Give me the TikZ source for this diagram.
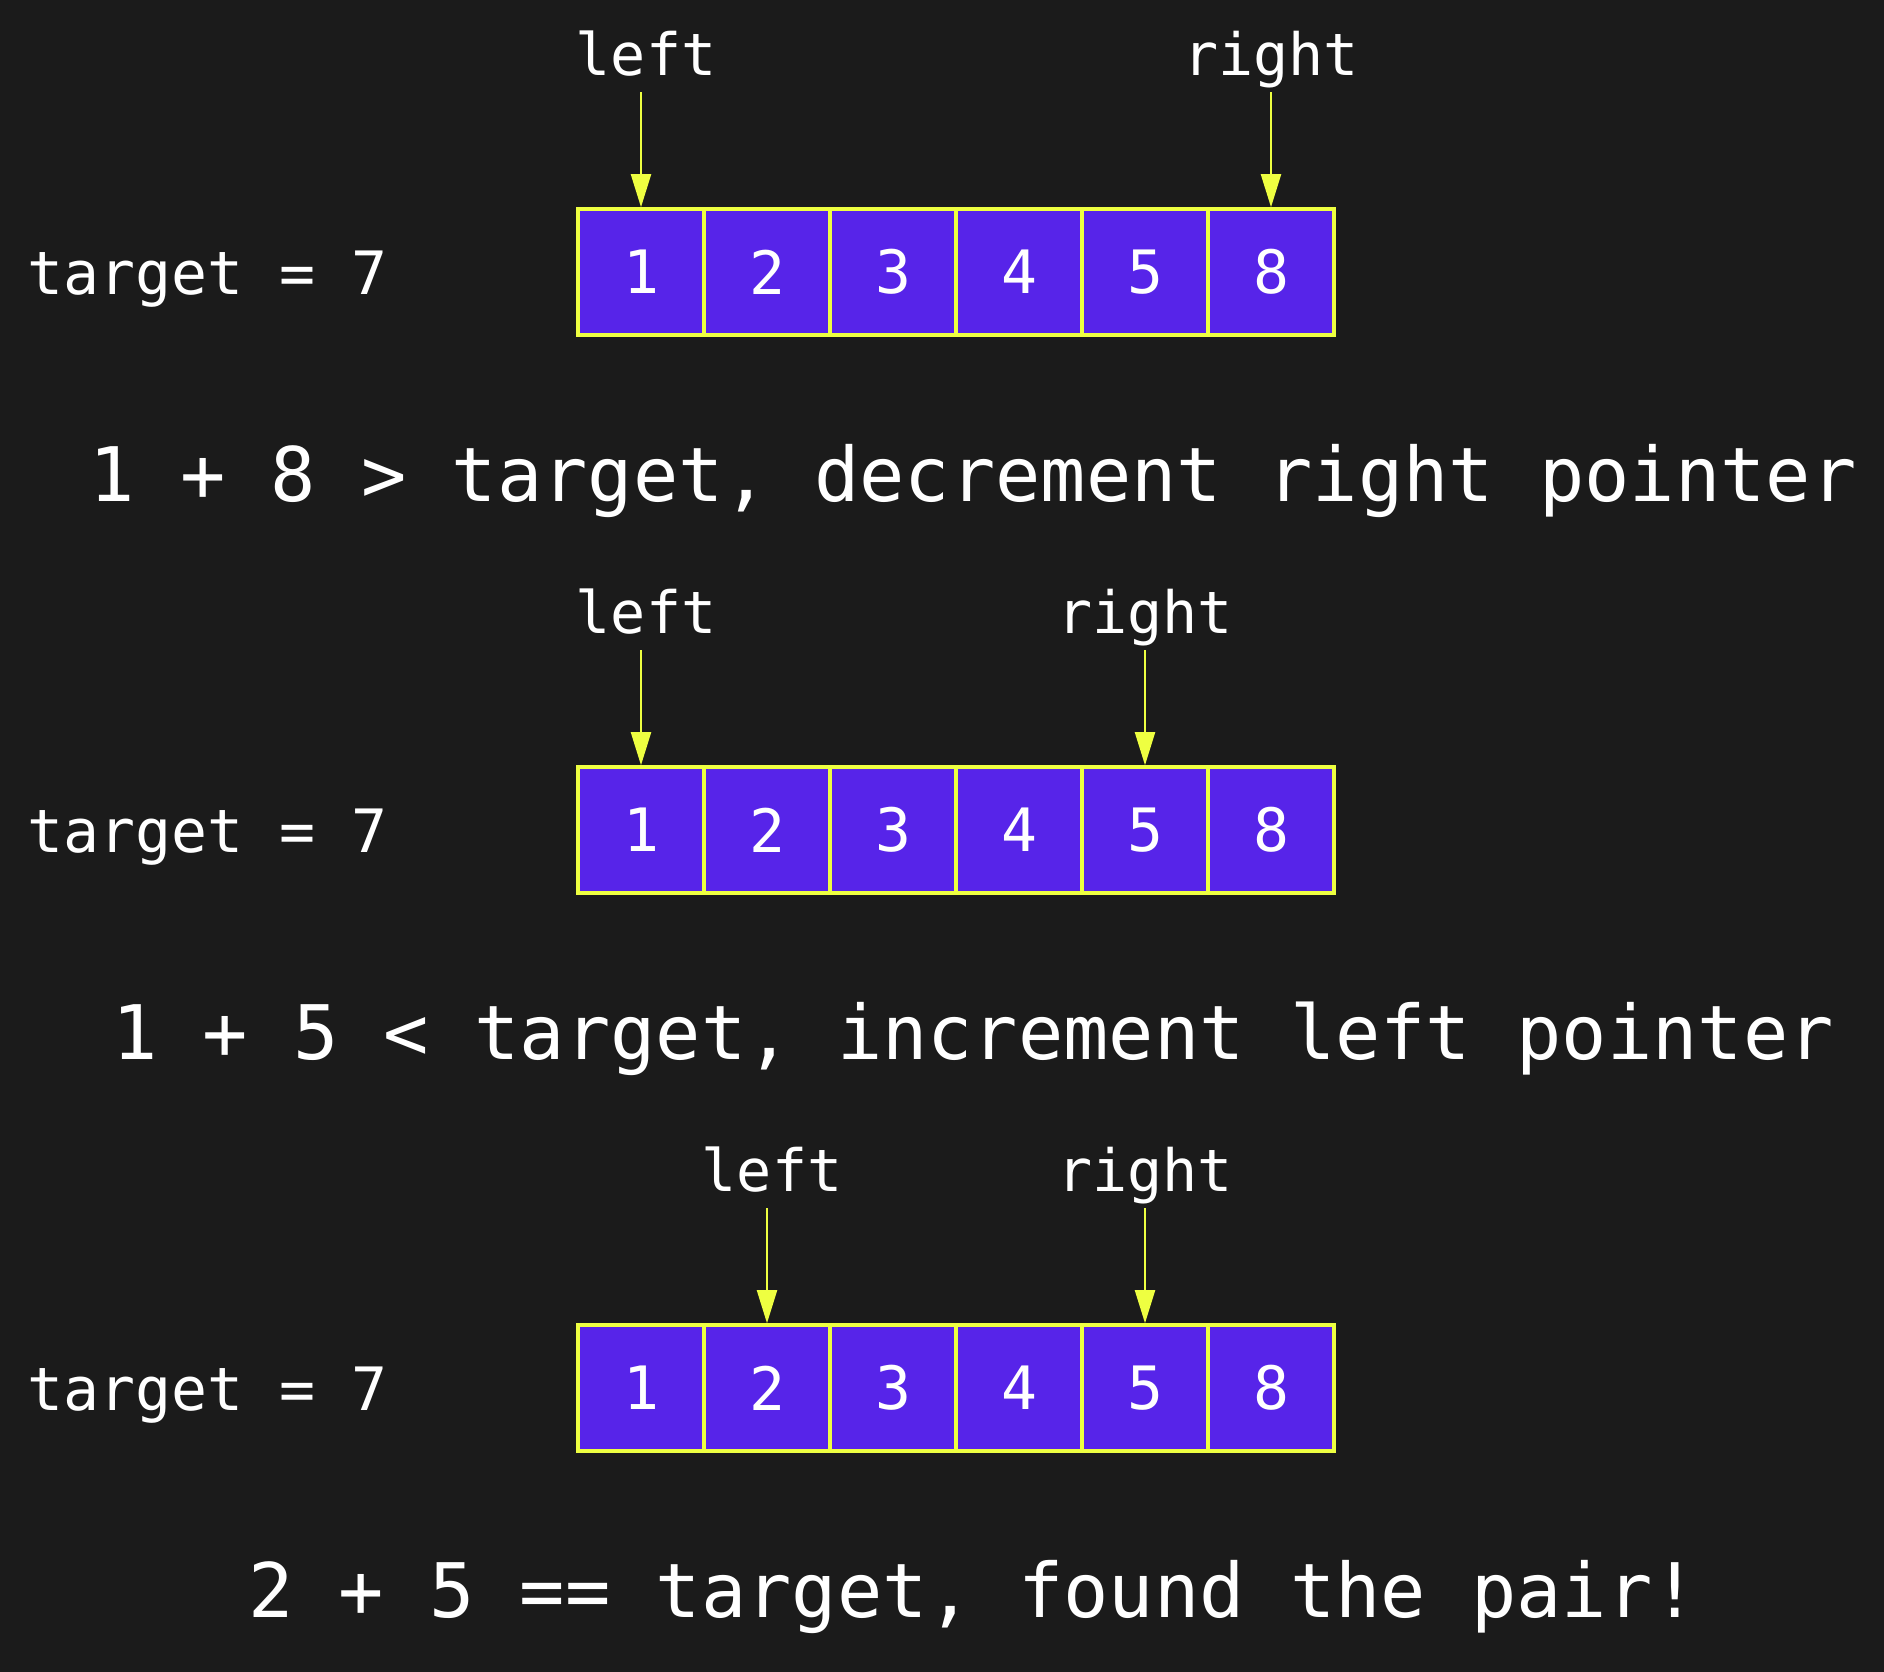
\documentclass[tikz,border=0pt]{standalone}
\usepackage{fontspec}
\setmonofont{DejaVu Sans Mono}
\usetikzlibrary{arrows.meta}
\definecolor{bgdark}{HTML}{1B1B1B}
\definecolor{cellfill}{HTML}{5724E9}
\definecolor{ptryellow}{HTML}{EEFF41}

\begin{document}
\begin{tikzpicture}[x=0.01cm,y=-0.01cm,
    cell/.style={draw=ptryellow,line width=1pt,fill=cellfill,text=white,minimum size=1.26cm,inner sep=0pt,font=\ttfamily\fontsize{17pt}{17pt}\selectfont},
    ptrlabel/.style={text=white,inner sep=0pt,anchor=base,font=\ttfamily\fontsize{16.6pt}{16.6pt}\selectfont},
    targetlabel/.style={text=white,inner sep=0pt,anchor=base west,font=\ttfamily\fontsize{17pt}{17pt}\selectfont},
    caption/.style={text=white,inner sep=0pt,anchor=base,font=\ttfamily\fontsize{21.4pt}{21.4pt}\selectfont},
    ptrarrow/.style={draw=ptryellow,line width=0.6pt,-{Triangle[length=3.3mm,width=2mm]}}]
                  % background
                  \fill [bgdark] (0,0) rectangle (1884,1672);
                  % arrays and targets
                  \foreach \row/\yc in {1/272,2/830,3/1388} {
                    \node [targetlabel] (tgt\row) at (27,\yc+22) {target = 7};
                    \foreach \v [count=\i] in {1,2,3,4,5,8}
                      \node [cell] (r\row-\i) at (515+126*\i,\yc) {\v};
                  }
                  % pointers row 1
                  \node [ptrlabel] (left1) at ([xshift=0.05cm,yshift=1.32cm]r1-1.north) {left};
                  \node [ptrlabel] (right1) at ([yshift=1.32cm]r1-6.north) {right};
                  \draw [ptrarrow] ([xshift=-0.05cm,yshift=-0.17cm]left1.base) -- (r1-1.north);
                  \draw [ptrarrow] ([yshift=-0.17cm]right1.base) -- (r1-6.north);
                  \node [caption] (cap1) at (973,501) {1 + 8 > target, decrement right pointer};
                  % pointers row 2
                  \node [ptrlabel] (left2) at ([xshift=0.05cm,yshift=1.32cm]r2-1.north) {left};
                  \node [ptrlabel] (right2) at ([yshift=1.32cm]r2-5.north) {right};
                  \draw [ptrarrow] ([xshift=-0.05cm,yshift=-0.17cm]left2.base) -- (r2-1.north);
                  \draw [ptrarrow] ([yshift=-0.17cm]right2.base) -- (r2-5.north);
                  \node [caption] (cap2) at (973,1059) {1 + 5 < target, increment left pointer};
                  % pointers row 3
                  \node [ptrlabel] (left3) at ([xshift=0.05cm,yshift=1.32cm]r3-2.north) {left};
                  \node [ptrlabel] (right3) at ([yshift=1.32cm]r3-5.north) {right};
                  \draw [ptrarrow] ([xshift=-0.05cm,yshift=-0.17cm]left3.base) -- (r3-2.north);
                  \draw [ptrarrow] ([yshift=-0.17cm]right3.base) -- (r3-5.north);
                  \node [caption] (cap3) at (973,1617) {2 + 5 == target, found the pair!};
               \end{tikzpicture}
\end{document}
